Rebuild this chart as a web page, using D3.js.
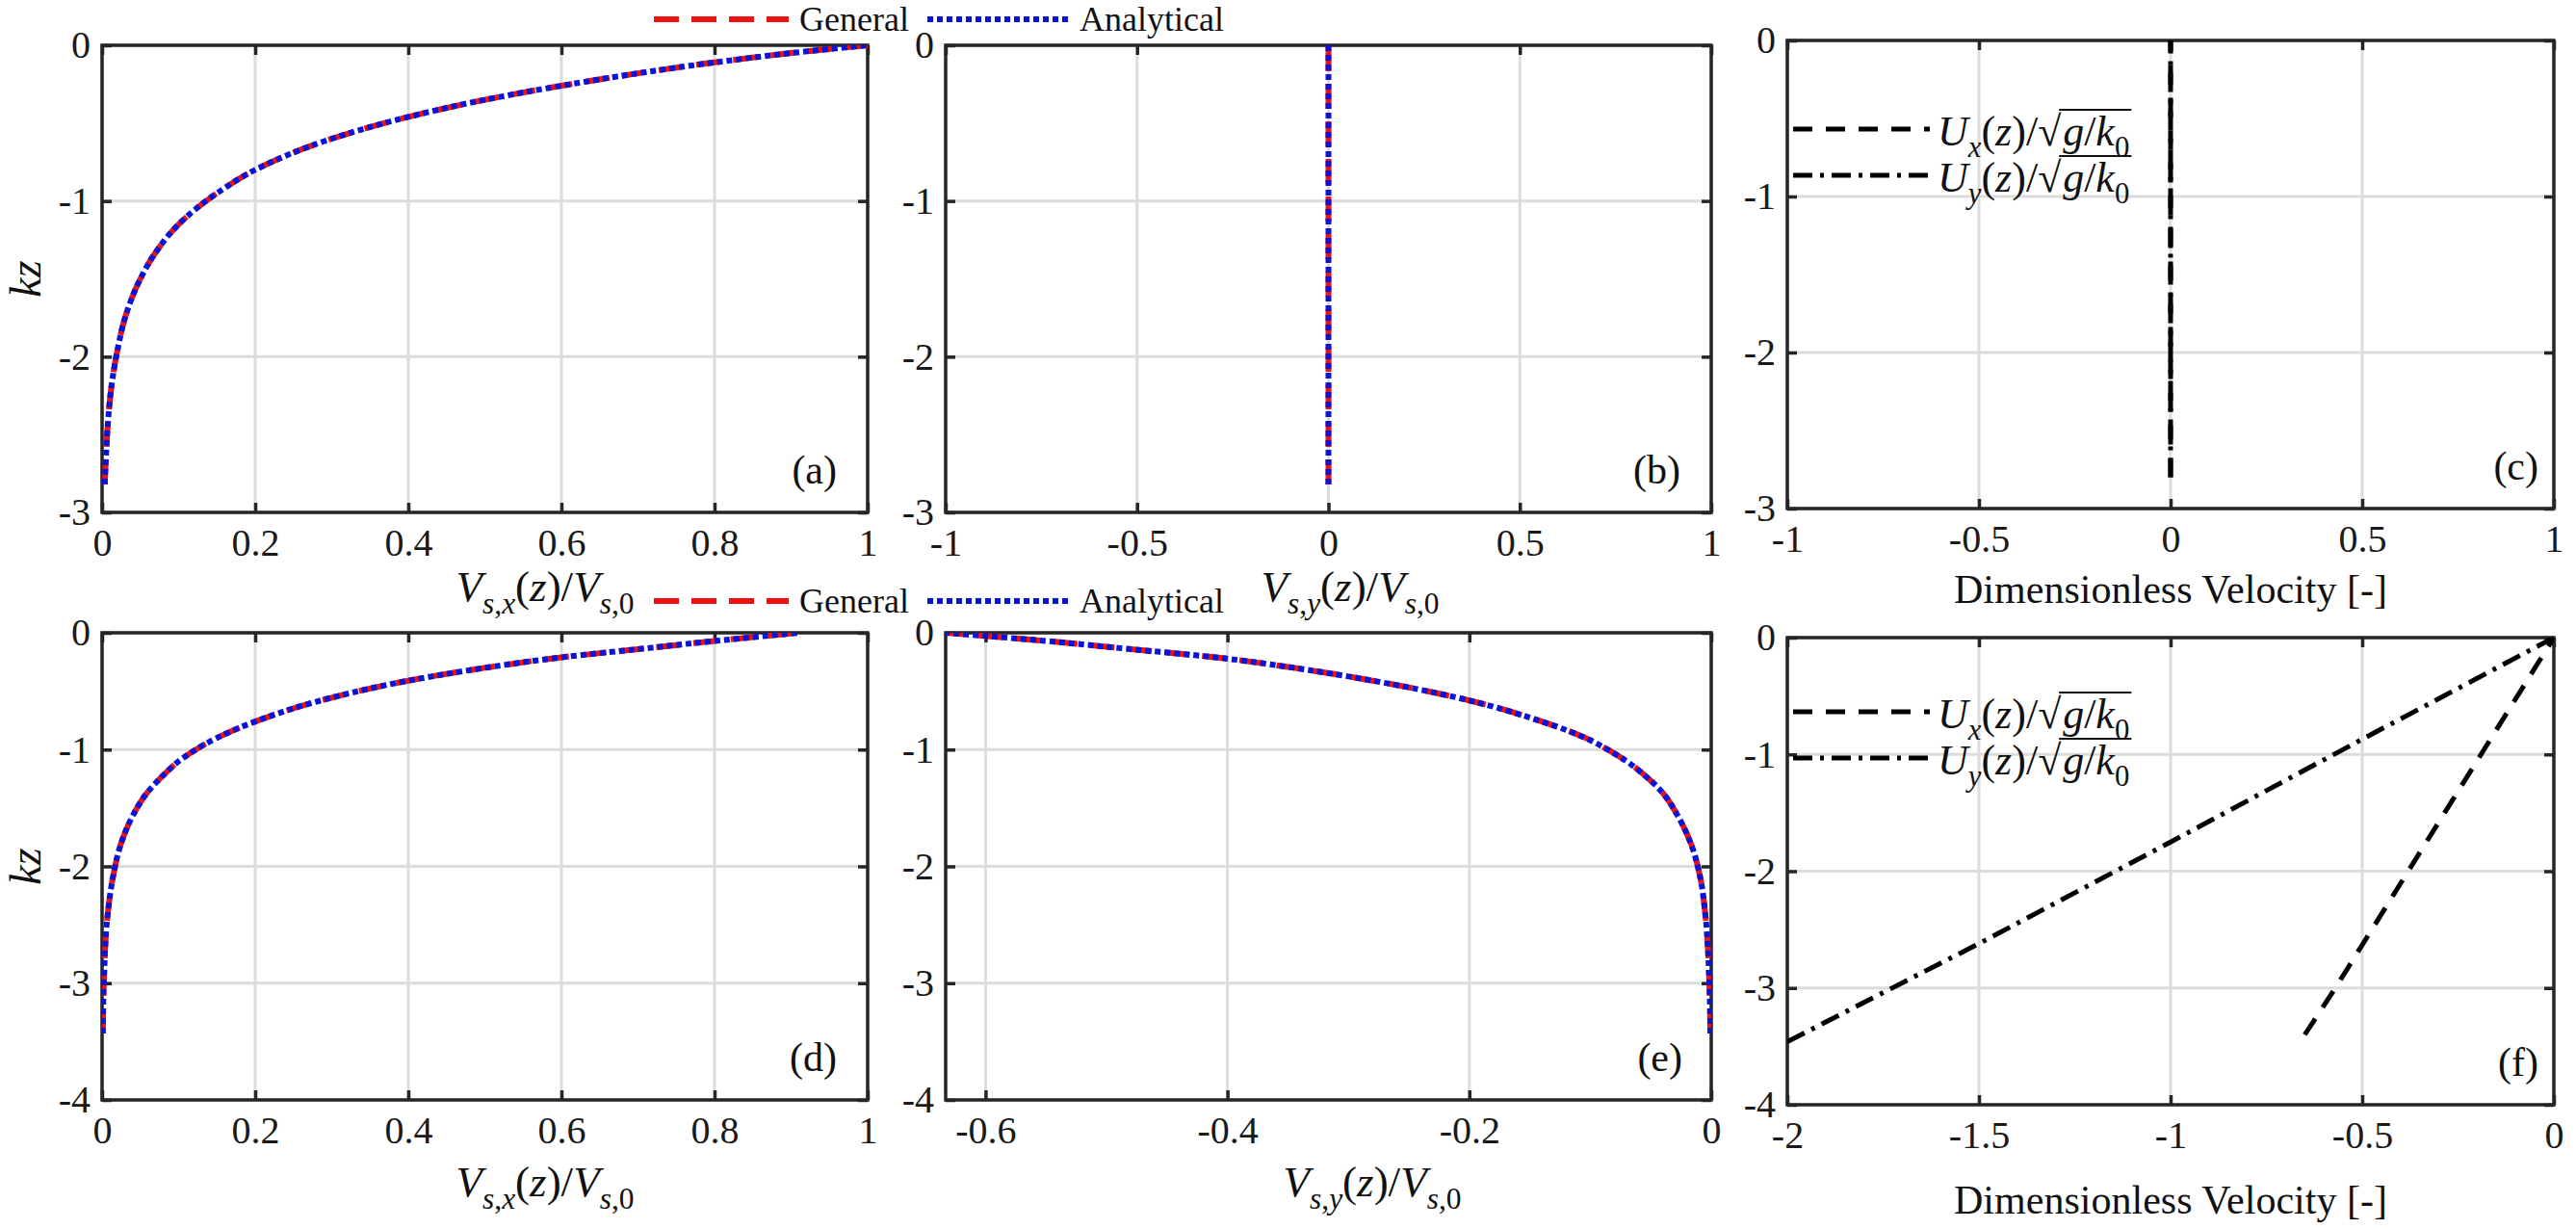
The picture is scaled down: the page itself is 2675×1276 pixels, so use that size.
<!DOCTYPE html>
<html>
<head>
<meta charset="utf-8">
<script src="https://cdn.jsdelivr.net/npm/d3@7"></script>
<style>body{margin:0;background:#fff}</style>
</head>
<body>
<div id="chart"></div>
<script>
// ---------------------- values ----------------------
// (a) Stokes drift, x component (aligned case)
var kzA  = [0, -0.05, -0.11, -0.18, -0.26, -0.35, -0.46, -0.60, -0.80, -0.95, -1.15, -1.33, -1.50, -1.75, -1.96, -2.20, -2.40, -2.65, -2.82];
var vsxA = [1, 0.9, 0.8, 0.7, 0.6, 0.5, 0.4, 0.3, 0.2, 0.15, 0.1, 0.07, 0.05, 0.03, 0.02, 0.012, 0.008, 0.005, 0.0035];
// (b) y component is zero
var kzB  = [0, -2.82];
var vsyB = [0, 0];
// (c) mean current components
var kzC  = [0, -2.8];
var uxC  = [0, 0];
var uyC  = [0, 0];
// (d), (e) oblique case
var kzD  = [0, -0.07, -0.14, -0.21, -0.30, -0.41, -0.555, -0.76, -0.90, -1.01, -1.10, -1.22, -1.36, -1.58, -1.80, -2.10, -2.40, -2.95, -3.43];
var vsxD = [0.91, 0.8, 0.7, 0.6, 0.5, 0.4, 0.3, 0.2, 0.15, 0.12, 0.1, 0.08, 0.06, 0.039, 0.025, 0.014, 0.0075, 0.0025, 0.001];
var vsyE = [-0.633, -0.55, -0.48, -0.41, -0.345, -0.28, -0.21, -0.14, -0.104, -0.084, -0.07, -0.055, -0.041, -0.027, -0.017, -0.009, -0.005, -0.0017, -0.0007];
// (f) mean current components
var kzFx = [0, -1, -2, -3, -3.4];
var uxF  = [0, -0.19, -0.38, -0.57, -0.65];
var kzFy = [0, -0.87, -1.75, -2.62, -3.46];
var uyF  = [0, -0.5, -1, -1.5, -2];

// tick values and labels
var ticks01   = [0, 0.2, 0.4, 0.6, 0.8, 1];
var labels01  = ["0", "0.2", "0.4", "0.6", "0.8", "1"];
var ticksPM1  = [-1, -0.5, 0, 0.5, 1];
var labelsPM1 = ["-1", "-0.5", "0", "0.5", "1"];
var ticksE    = [-0.6, -0.4, -0.2, 0];
var labelsE   = ["-0.6", "-0.4", "-0.2", "0"];
var ticksF    = [-2, -1.5, -1, -0.5, 0];
var labelsF   = ["-2", "-1.5", "-1", "-0.5", "0"];
var ticksK3   = [0, -1, -2, -3];
var labelsK3  = ["0", "-1", "-2", "-3"];
var ticksK4   = [0, -1, -2, -3, -4];
var labelsK4  = ["0", "-1", "-2", "-3", "-4"];

var legendStokes  = ["General", "Analytical"];
var panelTags     = ["(a)", "(b)", "(c)", "(d)", "(e)", "(f)"];
var xTitleCurrent = "Dimensionless Velocity [-]";

// ---------------------- styles ----------------------
var W = 2675, H = 1276;
var SERIF = "Liberation Serif, serif";
var AXIS = "#262626", GRID = "#dcdcdc";
var styles = {
  general:    {stroke: "#ee1111", width: 6, dash: "26,13"},
  analytical: {stroke: "#0a14d8", width: 6, dash: "6,4"},
  ux:         {stroke: "#000",    width: 5, dash: "20,14"},
  uy:         {stroke: "#000",    width: 5, dash: "20,8,4,8"}
};

var vsx = [["V","i"],["s","is"],[",","s"],["x","is"],["(",""],["z","i"],[")/",""],["V","i"],["s","is"],[",0","s"]];
var vsy = [["V","i"],["s","is"],[",","s"],["y","is"],["(",""],["z","i"],[")/",""],["V","i"],["s","is"],[",0","s"]];

var panels = [
  {box: [106, 47, 901, 532],   xd: [0, 1],      yd: [-3, 0], xt: ticks01,  xl: labels01,  yt: ticksK3, yl: labelsK3,
   series: [[vsxA, kzA, "general"], [vsxA, kzA, "analytical"]], curve: "smooth", tagPad: 32,
   xlab: vsx, xlabX: 566, xlabY: 624, kz: true},
  {box: [982, 47, 1777, 532],  xd: [-1, 1],     yd: [-3, 0], xt: ticksPM1, xl: labelsPM1, yt: ticksK3, yl: labelsK3,
   series: [[vsyB, kzB, "general"], [vsyB, kzB, "analytical"]], curve: "lin", tagPad: 32,
   xlab: vsy, xlabX: 1402, xlabY: 624},
  {box: [1856, 42, 2652, 528], xd: [-1, 1],     yd: [-3, 0], xt: ticksPM1, xl: labelsPM1, yt: ticksK3, yl: labelsK3,
   series: [[uxC, kzC, "ux"], [uyC, kzC, "uy"]], curve: "lin", tagPad: 16,
   xtitle: true, xlabY: 626, legU: [134, 182]},
  {box: [106, 657, 901, 1142], xd: [0, 1],      yd: [-4, 0], xt: ticks01,  xl: labels01,  yt: ticksK4, yl: labelsK4,
   series: [[vsxD, kzD, "general"], [vsxD, kzD, "analytical"]], curve: "smooth", tagPad: 32,
   xlab: vsx, xlabX: 566, xlabY: 1242, kz: true},
  {box: [982, 657, 1777, 1142], xd: [-0.633, 0], yd: [-4, 0], xt: ticksE,   xl: labelsE,   yt: ticksK4, yl: labelsK4,
   series: [[vsyE, kzD, "general"], [vsyE, kzD, "analytical"]], curve: "smooth", tagPad: 30,
   xlab: vsy, xlabX: 1425, xlabY: 1242},
  {box: [1856, 662, 2652, 1147], xd: [-2, 0],    yd: [-4, 0], xt: ticksF,   xl: labelsF,   yt: ticksK4, yl: labelsK4,
   series: [[uxF, kzFx, "ux"], [uyF, kzFy, "uy"]], curve: "lin", tagPad: 16,
   xtitle: true, xlabY: 1260, legU: [739, 787]}
];

var svg = d3.select("#chart").append("svg")
  .attr("width", W)
  .attr("height", H)
  .style("background", "#fff");

// writes a small LaTeX-like label: parts are [text, flags], i = italic, s = subscript
function mathText(g, x, y, parts, size, anchor) {
  var t = g.append("text")
    .attr("x", x).attr("y", y)
    .attr("text-anchor", anchor)
    .attr("font-family", SERIF)
    .attr("font-size", size)
    .attr("fill", "#111");
  var low = false;
  parts.forEach(function (p) {
    var s = t.append("tspan").text(p[0]);
    var it = p[1].indexOf("i") >= 0, sb = p[1].indexOf("s") >= 0;
    if (it) s.attr("font-style", "italic");
    if (sb) s.attr("font-size", size * 0.7);
    if (sb && !low) s.attr("dy", size * 0.28);
    if (!sb && low) s.attr("dy", -size * 0.28);
    low = sb;
  });
  return t;
}

function drawLine(g, x, y, xs, ys, st, curve) {
  var pts = d3.zip(xs, ys).sort(function (a, b) { return a[1] - b[1]; });
  var line = d3.line()
    .x(function (d) { return x(d[0]); })
    .y(function (d) { return y(d[1]); })
    .curve(curve === "smooth" ? d3.curveMonotoneY : d3.curveLinear);
  g.append("path")
    .datum(pts)
    .attr("d", line)
    .attr("fill", "none")
    .attr("stroke", styles[st].stroke)
    .attr("stroke-width", styles[st].width)
    .attr("stroke-dasharray", styles[st].dash);
}

// ---------------------- panels ----------------------
panels.forEach(function (p, i) {
  var b = p.box;
  var x = d3.scaleLinear().domain(p.xd).range([b[0], b[2]]);
  var y = d3.scaleLinear().domain(p.yd).range([b[3], b[1]]);
  var g = svg.append("g");

  // grid
  g.selectAll(".gx").data(p.xt).enter().append("line")
    .attr("x1", function (d) { return x(d); }).attr("x2", function (d) { return x(d); })
    .attr("y1", b[1]).attr("y2", b[3])
    .attr("stroke", GRID).attr("stroke-width", 3);
  g.selectAll(".gy").data(p.yt).enter().append("line")
    .attr("y1", function (d) { return y(d); }).attr("y2", function (d) { return y(d); })
    .attr("x1", b[0]).attr("x2", b[2])
    .attr("stroke", GRID).attr("stroke-width", 3);

  // axes, ticks inside on all four sides
  var ax = [
    [d3.axisBottom(x).tickValues(p.xt).tickFormat(function (d, k) { return p.xl[k]; }).tickPadding(17), "translate(0," + b[3] + ")"],
    [d3.axisTop(x).tickValues(p.xt).tickFormat(""), "translate(0," + b[1] + ")"],
    [d3.axisLeft(y).tickValues(p.yt).tickFormat(function (d, k) { return p.yl[k]; }).tickPadding(12), "translate(" + b[0] + ",0)"],
    [d3.axisRight(y).tickValues(p.yt).tickFormat(""), "translate(" + b[2] + ",0)"]
  ];
  ax.forEach(function (a) {
    var ag = g.append("g").attr("transform", a[1])
      .call(a[0].tickSizeInner(-10).tickSizeOuter(0));
    ag.select(".domain").remove();
    ag.selectAll(".tick line").attr("stroke", AXIS).attr("stroke-width", 3.5);
    ag.selectAll(".tick text")
      .attr("fill", "#1a1a1a")
      .style("font-family", SERIF)
      .style("font-size", "40px");
  });
  g.append("rect")
    .attr("x", b[0]).attr("y", b[1])
    .attr("width", b[2] - b[0]).attr("height", b[3] - b[1])
    .attr("fill", "none").attr("stroke", AXIS).attr("stroke-width", 3.5);

  // data, clipped to the axes box
  svg.append("clipPath").attr("id", "clip" + i).append("rect")
    .attr("x", b[0]).attr("y", b[1])
    .attr("width", b[2] - b[0]).attr("height", b[3] - b[1]);
  var dg = g.append("g").attr("clip-path", "url(#clip" + i + ")");
  p.series.forEach(function (s) { drawLine(dg, x, y, s[0], s[1], s[2], p.curve); });

  // panel tag
  g.append("text")
    .attr("x", b[2] - p.tagPad).attr("y", b[3] - 30)
    .attr("text-anchor", "end")
    .attr("font-family", SERIF).attr("font-size", 42)
    .attr("fill", "#111")
    .text(panelTags[i]);

  // axis titles
  if (p.kz) {
    var ky = (b[1] + b[3]) / 2;
    g.append("text")
      .attr("transform", "translate(42," + ky + ") rotate(-90)")
      .attr("text-anchor", "middle")
      .attr("font-family", SERIF).attr("font-size", 46).attr("font-style", "italic")
      .attr("fill", "#111")
      .text("kz");
  }
  if (p.xlab) mathText(g, p.xlabX, p.xlabY, p.xlab, 45, "middle");
  if (p.xtitle) {
    g.append("text")
      .attr("x", (b[0] + b[2]) / 2).attr("y", p.xlabY)
      .attr("text-anchor", "middle")
      .attr("font-family", SERIF).attr("font-size", 42)
      .attr("textLength", 450).attr("lengthAdjust", "spacingAndGlyphs")
      .attr("fill", "#111")
      .text(xTitleCurrent);
  }

  // legend of the mean-current panels
  if (p.legU) {
    ["ux", "uy"].forEach(function (st, k) {
      var ly = p.legU[k];
      g.append("line")
        .attr("x1", b[0] + 6).attr("x2", b[0] + 148)
        .attr("y1", ly).attr("y2", ly)
        .attr("stroke", styles[st].stroke).attr("stroke-width", styles[st].width)
        .attr("stroke-dasharray", styles[st].dash);
      var head = mathText(g, b[0] + 156, ly + 17,
        [["U", "i"], [st === "ux" ? "x" : "y", "is"], ["(", ""], ["z", "i"], [")/", ""], ["\u221A", ""]], 44, "start");
      var hb = head.node().getBBox();
      var rad = mathText(g, hb.x + hb.width + 1, ly + 17, [["g", "i"], ["/", ""], ["k", "i"], ["0", "s"]], 44, "start");
      var rb = rad.node().getBBox();
      g.append("line")
        .attr("x1", hb.x + hb.width - 3).attr("x2", rb.x + rb.width + 2)
        .attr("y1", ly - 20).attr("y2", ly - 20)
        .attr("stroke", "#111").attr("stroke-width", 2);
    });
  }
});

// ---------------------- Stokes-drift legends ----------------------
[20, 624].forEach(function (ly) {
  var lg = svg.append("g");
  lg.append("line")
    .attr("x1", 679).attr("x2", 819).attr("y1", ly).attr("y2", ly)
    .attr("stroke", styles.general.stroke).attr("stroke-width", styles.general.width)
    .attr("stroke-dasharray", styles.general.dash);
  lg.append("text")
    .attr("x", 830).attr("y", ly + 12)
    .attr("font-family", SERIF).attr("font-size", 36).attr("fill", "#111")
    .text(legendStokes[0]);
  lg.append("line")
    .attr("x1", 963).attr("x2", 1110).attr("y1", ly).attr("y2", ly)
    .attr("stroke", styles.analytical.stroke).attr("stroke-width", styles.analytical.width)
    .attr("stroke-dasharray", styles.analytical.dash);
  lg.append("text")
    .attr("x", 1121).attr("y", ly + 12)
    .attr("font-family", SERIF).attr("font-size", 36).attr("fill", "#111")
    .text(legendStokes[1]);
});
</script>
</body>
</html>
